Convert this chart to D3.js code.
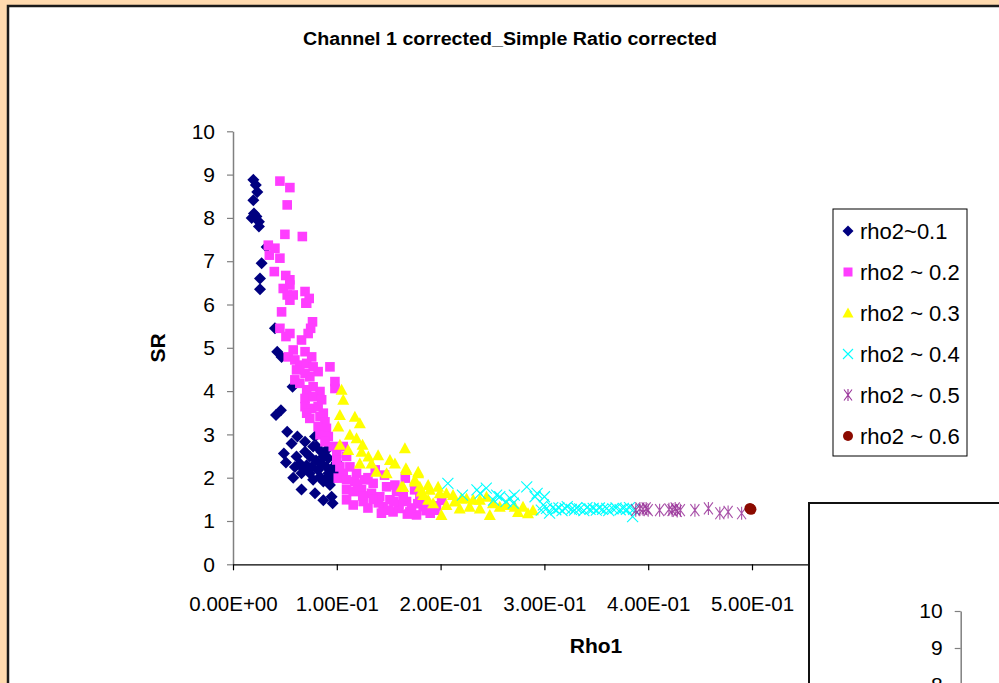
<!DOCTYPE html>
<html><head><meta charset="utf-8">
<script src="https://cdn.jsdelivr.net/npm/d3@7"></script>
<style>
body{margin:0;background:#FFDAAF;overflow:hidden;}
svg{display:block;font-family:"Liberation Sans",Arial,sans-serif;}
</style>
</head><body>
<svg id="chart" width="999" height="683"></svg>
<script>
// ---------- DATA ----------
const titleText = "Channel 1 corrected_Simple Ratio corrected";
const xAxisTitle = "Rho1";
const yAxisTitle = "SR";
const xTickValues = [0, 0.1, 0.2, 0.3, 0.4, 0.5, 0.6];
const yTickValues = [0,1,2,3,4,5,6,7,8,9,10];
const insetYTickValues = [8,9,10];
const seriesNames = ["rho2~0.1", "rho2 ~ 0.2", "rho2 ~ 0.3", "rho2 ~ 0.4", "rho2 ~ 0.5", "rho2 ~ 0.6"];

const rho2_01 = [
[0.0196,8.88],[0.022,8.76],[0.0234,8.6],[0.0196,8.41],[0.0202,8.1],[0.0226,8.03],[0.025,7.91],[0.025,7.8],[0.018,8.0],
[0.0324,7.33],[0.0276,6.95],[0.026,6.6],[0.026,6.35],
[0.0404,5.45],[0.0426,4.91],[0.0468,4.79],[0.0574,4.10],[0.0414,3.45],[0.0462,3.56],[0.0522,3.06],[0.0564,2.79],
[0.062,2.95],[0.0694,2.83],[0.049,2.56],[0.051,2.35],[0.0612,2.49],[0.066,2.10],[0.066,1.73],[0.079,2.95],[0.0806,2.72],
[0.074,2.49],[0.071,2.29],[0.0772,1.95],[0.079,1.64],[0.087,2.49],[0.09,2.25],[0.0918,2.02],[0.0934,1.83],[0.087,1.48],
[0.096,1.41],[0.095,1.56],[0.0966,2.25],[0.1,2.18],[0.0838,2.02],[0.087,1.91],[0.0758,2.25],[0.082,2.18],[0.0854,2.33],
[0.0772,2.72],[0.09,2.64],[0.0918,2.45],[0.0644,2.33],[0.0596,2.25],[0.0694,2.60],[0.074,2.10],
[0.085,2.60],[0.095,1.95],[0.1,2.35],[0.092,2.10],[0.08,2.40],[0.068,2.20],[0.058,2.00],[0.098,2.05]
];
const rho2_02 = [
[0.0452,8.85],[0.0548,8.70],[0.0522,8.30],[0.05,7.62],[0.0668,7.57],[0.034,7.37],[0.0404,7.30],[0.035,7.14],[0.0452,7.07],
[0.0398,6.76],[0.0508,6.67],[0.0548,6.57],[0.0548,6.45],[0.0484,6.37],[0.0522,6.22],[0.058,6.22],[0.0694,6.30],[0.0734,6.14],
[0.0702,6.03],[0.0548,6.10],[0.071,6.03],[0.0468,5.83],[0.0766,5.60],[0.0748,5.45],[0.0452,5.45],[0.0548,5.33],[0.051,5.26],
[0.066,5.18],[0.0724,5.33],[0.058,4.95],[0.0694,4.91],[0.0532,4.79],[0.0758,4.79],[0.0596,4.72],[0.0644,4.60],[0.071,4.64],
[0.0772,4.56],[0.0934,4.56],[0.0612,4.49],[0.0694,4.41],[0.082,4.45],[0.074,4.33],[0.0596,4.26],[0.0982,4.22],[0.0644,4.18],
[0.0772,4.10],[0.071,4.03],[0.0838,3.99],[0.0982,4.06],[0.0694,3.83],[0.0772,3.87],[0.0854,3.80],[0.0694,3.64],[0.0758,3.60],
[0.082,3.64],[0.071,3.49],[0.087,3.49],[0.074,3.37],[0.0838,3.41],[0.0886,3.29],[0.082,3.18],[0.09,3.14],[0.0838,2.99],
[0.0918,2.95],[0.0886,2.83],[0.0966,2.72],[0.1,2.56],[0.1062,2.72],[0.1094,2.49],[0.1,2.41],[0.103,2.25],[0.1126,2.25],
[0.1062,2.10],[0.1014,1.99],[0.1094,1.95],[0.119,2.10],[0.1174,1.91],[0.127,1.95],[0.1094,1.72],[0.1158,1.68],[0.1238,1.72],
[0.1094,1.49],[0.1158,1.37],[0.1254,1.45],[0.1334,1.64],[0.135,1.87],[0.1414,1.56],[0.1446,1.33],[0.1512,1.49],[0.1592,1.29],
[0.143,1.18],[0.1542,1.21],[0.1672,1.45],[0.1704,1.21],[0.1768,1.14],[0.1832,1.33],[0.18,1.52],[0.1576,1.68],[0.148,1.79],
[0.164,1.56],[0.185,1.41],[0.1945,1.25],[0.201,1.48],[0.175,1.72],[0.166,1.99],[0.156,1.83],[0.146,2.06],[0.137,2.18],
[0.13,1.30],[0.14,1.42],[0.15,1.25],[0.16,1.38],[0.172,1.30],[0.19,1.18],[0.125,1.58],[0.135,1.50],[0.155,1.45],
[0.178,1.40],[0.196,1.35],[0.12,1.85],[0.13,2.00],[0.186,1.24],[0.168,1.16]
];
const rho2_03 = [
[0.1046,4.03],[0.1062,3.80],[0.103,3.45],[0.1014,3.18],[0.1174,3.41],[0.1222,3.26],[0.1126,2.99],[0.119,2.91],[0.103,2.76],
[0.111,2.64],[0.1248,2.76],[0.1238,2.60],[0.1222,2.33],[0.1304,2.49],[0.1398,2.52],[0.1334,2.33],[0.1382,2.14],[0.1512,2.41],
[0.156,2.33],[0.148,2.10],[0.1656,2.68],[0.1672,2.18],[0.1784,2.10],[0.1624,1.79],[0.1752,1.91],[0.1816,1.68],[0.188,1.83],
[0.188,1.49],[0.1666,2.22],[0.1784,2.14],[0.1752,1.95],[0.164,1.79],[0.18,1.79],[0.1832,1.60],[0.1896,1.72],[0.1976,1.79],
[0.1992,1.64],[0.2056,1.64],[0.212,1.60],[0.2136,1.45],[0.22,1.52],[0.225,1.52],[0.2314,1.49],[0.2378,1.49],[0.2442,1.56],
[0.2504,1.41],[0.257,1.33],[0.2634,1.37],[0.2714,1.33],[0.2794,1.33],[0.289,1.25],[0.2008,1.14],[0.2474,1.14],[0.1928,1.41],
[0.2056,1.37],[0.228,1.33],[0.2184,1.29],[0.2378,1.29],[0.2746,1.21],[0.2842,1.18]
];
const rho2_04 = [
[0.207,1.87],[0.221,1.60],[0.235,1.72],[0.238,1.64],[0.244,1.76],[0.251,1.48],[0.254,1.60],[0.257,1.56],[0.263,1.45],
[0.267,1.52],[0.270,1.41],[0.271,1.60],[0.283,1.79],[0.291,1.56],[0.293,1.64],[0.299,1.37],[0.300,1.56],[0.302,1.29],
[0.305,1.18],[0.297,1.25],[0.308,1.31],[0.311,1.26],[0.314,1.30],[0.317,1.24],[0.320,1.29],[0.322,1.33],[0.326,1.27],
[0.329,1.25],[0.331,1.30],[0.334,1.28],[0.338,1.24],[0.341,1.31],[0.344,1.27],[0.347,1.29],[0.350,1.25],[0.353,1.30],
[0.356,1.27],[0.360,1.29],[0.362,1.24],[0.366,1.28],[0.369,1.30],[0.373,1.26],[0.376,1.29],[0.379,1.27],[0.382,1.31],
[0.385,1.10],[0.386,1.27]
];
const rho2_05 = [
[0.388,1.25],[0.392,1.29],[0.395,1.27],[0.398,1.29],[0.400,1.25],[0.411,1.25],[0.420,1.27],[0.423,1.25],[0.426,1.29],
[0.428,1.23],[0.431,1.25],[0.445,1.25],[0.458,1.29],[0.469,1.18],[0.477,1.21],[0.490,1.18]
];
const rho2_06 = [[0.498,1.29],[0.499,1.27]];

// ---------- STYLES ----------
const seriesData = [rho2_01, rho2_02, rho2_03, rho2_04, rho2_05, rho2_06];
const colors = ["#000080", "#FF3DFF", "#FFFF00", "#00FFFF", "#993399", "#8B0A00"];
const shapes = {
  diamond: "M0,-6L6,0L0,6L-6,0Z",
  square: "M-4.8,-4.8H4.8V4.8H-4.8Z",
  triangle: "M0,-6L6,5L-6,5Z",
  cross: "M-5.5,-5.5L5.5,5.5M-5.5,5.5L5.5,-5.5",
  star: "M-4.5,-6L4.5,6M-4.5,6L4.5,-6M0,-6.5L0,6.5",
  circle: "M-5.5,0A5.5,5.5 0 1,0 5.5,0A5.5,5.5 0 1,0 -5.5,0Z"
};
const legendShapes = {
  diamond: "M0,-5.5L5.5,0L0,5.5L-5.5,0Z",
  square: "M-4.5,-4.5H4.5V4.5H-4.5Z",
  triangle: "M0,-5.5L5.5,4.5L-5.5,4.5Z",
  cross: "M-5,-5L5,5M-5,5L5,-5",
  star: "M-4,-5.5L4,5.5M-4,5.5L4,-5.5M0,-6L0,6",
  circle: "M-5,0A5,5 0 1,0 5,0A5,5 0 1,0 -5,0Z"
};
const shapeKeys = ["diamond","square","triangle","cross","star","circle"];
const filled = [true,true,true,false,false,true];

const svg = d3.select("#chart");

// outer chart area
svg.append("rect").attr("x",8).attr("y",6).attr("width",1100).attr("height",800)
  .attr("fill","#fff").attr("stroke","#1a1a1a").attr("stroke-width",2.5);

const x = d3.scaleLinear().domain([0,0.6]).range([233, 855.8]);
const y = d3.scaleLinear().domain([0,10]).range([564.3, 131.3]);

function sciFmt(v){
  const parts = v.toExponential(2).split("e");
  let e = parseInt(parts[1],10);
  const sign = e < 0 ? "-" : "+";
  e = Math.abs(e);
  return parts[0].toUpperCase() + "E" + sign + (e<10?"0":"") + e;
}

// y axis
const gy = svg.append("g").attr("transform","translate(233,0)")
  .call(d3.axisLeft(y).tickValues(yTickValues).tickSize(6).tickSizeOuter(0).tickPadding(12).tickFormat(d3.format("d")));
gy.select(".domain").attr("stroke","#808080").attr("stroke-width",1.5);
gy.selectAll(".tick line").attr("stroke","#808080").attr("stroke-width",1.2);
gy.selectAll("text").attr("font-size",21).attr("fill","#000").attr("font-family","Liberation Sans, Arial, sans-serif");

// x axis
const gx = svg.append("g").attr("transform","translate(0,564.3)")
  .call(d3.axisBottom(x).tickValues(xTickValues).tickSize(6).tickSizeOuter(0).tickPadding(26).tickFormat(sciFmt));
gx.select(".domain").attr("stroke","#000").attr("stroke-width",1.3);
gx.selectAll(".tick line").attr("stroke","#000").attr("stroke-width",1.2);
gx.selectAll("text").attr("font-size",20.5).attr("fill","#000").attr("font-family","Liberation Sans, Arial, sans-serif");

// data
seriesData.forEach((data,i)=>{
  svg.append("g").selectAll("path").data(data).join("path")
    .attr("transform",d=>`translate(${x(d[0])},${y(d[1])})`)
    .attr("d",shapes[shapeKeys[i]])
    .attr("fill",filled[i]?colors[i]:"none")
    .attr("stroke",filled[i]?"none":colors[i])
    .attr("stroke-width",1.1)
    .attr("opacity", i===4 ? 0.85 : 1);
});

// titles
svg.append("text").attr("x",510).attr("y",45).attr("text-anchor","middle")
  .attr("font-size",17.5).attr("font-weight","bold").attr("textLength",414).attr("lengthAdjust","spacingAndGlyphs")
  .text(titleText);
svg.append("text").attr("transform","translate(158,348) rotate(-90)").attr("text-anchor","middle").attr("dy","0.35em")
  .attr("font-size",21).attr("font-weight","bold").text(yAxisTitle);
svg.append("text").attr("x",596).attr("y",646).attr("dy","0.35em").attr("text-anchor","middle")
  .attr("font-size",21).attr("font-weight","bold").text(xAxisTitle);

// legend
const legend = svg.append("g");
legend.append("rect").attr("x",833).attr("y",209).attr("width",134).attr("height",247)
  .attr("fill","#fff").attr("stroke","#000").attr("stroke-width",1);
seriesNames.forEach((name,i)=>{
  const cy = 231 + i*41;
  legend.append("path").attr("transform",`translate(848,${cy})`).attr("d",legendShapes[shapeKeys[i]])
    .attr("fill",filled[i]?colors[i]:"none").attr("stroke",filled[i]?"none":colors[i]).attr("stroke-width",1.1);
  legend.append("text").attr("x",860).attr("y",cy).attr("dy","0.35em").attr("font-size",22).text(name);
});

// inset chart (second chart partly visible)
svg.append("rect").attr("x",809).attr("y",503).attr("width",300).attr("height",300)
  .attr("fill","#fff").attr("stroke","#111").attr("stroke-width",2);
const yi = d3.scaleLinear().domain([0,10]).range([981,611]);
const gi = svg.append("g").attr("transform","translate(960.7,0)")
  .call(d3.axisLeft(yi).tickValues(insetYTickValues).tickSize(6).tickSizeOuter(0).tickPadding(12).tickFormat(d3.format("d")));
gi.select(".domain").attr("stroke","#808080").attr("stroke-width",1.5);
gi.selectAll(".tick line").attr("stroke","#808080").attr("stroke-width",1.2);
gi.selectAll("text").attr("font-size",21).attr("fill","#000").attr("font-family","Liberation Sans, Arial, sans-serif");
</script>
</body></html>
